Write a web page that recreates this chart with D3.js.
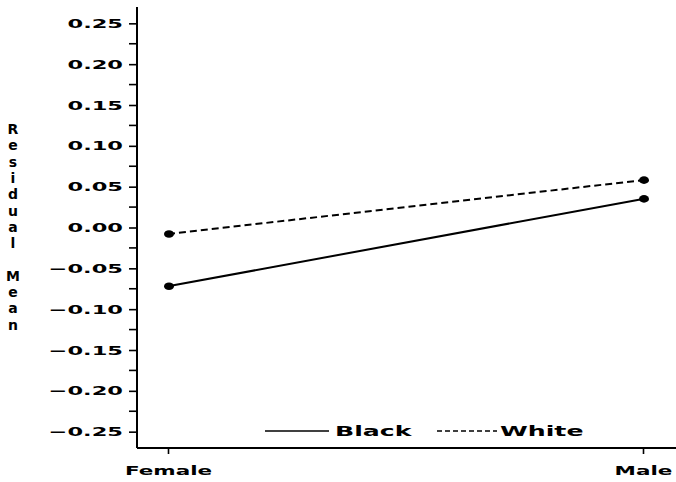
<!DOCTYPE html>
<html>
<head>
<meta charset="utf-8">
<script src="https://cdn.jsdelivr.net/npm/d3@7"></script>
<style>
  body { margin: 0; background: #fff; }
  text { font-family: "DejaVu Sans", sans-serif; font-weight: bold; fill: #000; }
</style>
</head>
<body>
<div id="chart"></div>
<script>
// Data
var sexes = ["Female", "Male"];
var blackMeans = [-0.072, 0.035];
var whiteMeans = [-0.008, 0.058];
var yTicks = [-0.25, -0.20, -0.15, -0.10, -0.05, 0.00, 0.05, 0.10, 0.15, 0.20, 0.25];
var yMinor = [-0.225, -0.175, -0.125, -0.075, -0.025, 0.025, 0.075, 0.125, 0.175, 0.225];
var seriesNames = ["Black", "White"];

var svgWidth = 676;
var svgHeight = 482;

var svg = d3.select("#chart")
  .append("svg")
  .attr("width", svgWidth)
  .attr("height", svgHeight);

// scales
var yScale = d3.scaleLinear()
  .domain([-0.27, 0.27])
  .range([448, 7]);

var xScale = d3.scalePoint()
  .domain(sexes)
  .range([168, 643]);

var axisX = 137;
var axisY = 448;

// stretch text horizontally like the old plotter font
function widen(sel, k) {
  sel.each(function() {
    var w = this.getComputedTextLength();
    d3.select(this).attr("textLength", w * k).attr("lengthAdjust", "spacingAndGlyphs");
  });
}

// y axis
var fmt = function(d) {
  var s = Math.abs(d).toFixed(2);
  return (d < -1e-9 ? "\u2212" : "") + s;
};
var yAxis = svg.append("g")
  .attr("transform", `translate(${axisX}, 0)`)
  .call(d3.axisLeft(yScale).tickValues(yTicks).tickFormat(fmt).tickSize(8).tickSizeOuter(0).tickPadding(6));
yAxis.select(".domain").remove();
yAxis.selectAll("line").attr("stroke", "#000").attr("stroke-width", 1.6);
yAxis.selectAll("text")
  .style("font-size", "12.5px")
  .style("font-family", "'DejaVu Sans', sans-serif")
  .style("font-weight", "bold");
widen(yAxis.selectAll("text"), 1.8);

svg.append("g")
  .selectAll("line")
  .data(yMinor)
  .enter()
  .append("line")
  .attr("x1", axisX - 8)
  .attr("x2", axisX)
  .attr("y1", d => yScale(d))
  .attr("y2", d => yScale(d))
  .attr("stroke", "#000")
  .attr("stroke-width", 1.6);

svg.append("line")
  .attr("x1", axisX).attr("x2", axisX)
  .attr("y1", yScale(0.27)).attr("y2", axisY)
  .attr("stroke", "#000").attr("stroke-width", 2);

// x axis
var xAxis = svg.append("g")
  .attr("transform", `translate(0, ${axisY})`)
  .call(d3.axisBottom(xScale).tickSize(6).tickSizeOuter(0).tickPadding(12));
xAxis.select(".domain").remove();
xAxis.selectAll("line").attr("stroke", "#000").attr("stroke-width", 1.6);
xAxis.selectAll("text")
  .style("font-size", "12.5px")
  .style("font-family", "'DejaVu Sans', sans-serif")
  .style("font-weight", "bold");
widen(xAxis.selectAll("text"), 1.72);

svg.append("line")
  .attr("x1", axisX).attr("x2", svgWidth)
  .attr("y1", axisY).attr("y2", axisY)
  .attr("stroke", "#000").attr("stroke-width", 2);

// y title, stacked letters
var title = "Residual Mean";
svg.append("g")
  .selectAll("text")
  .data(title.split(""))
  .enter()
  .append("text")
  .attr("x", 13)
  .attr("y", (d, i) => 134 + i * 16.3)
  .attr("text-anchor", "middle")
  .style("font-size", "14px")
  .text(d => d);

// lines
var line = d3.line()
  .x((d, i) => xScale(sexes[i]))
  .y(d => yScale(d));

var series = [
  { name: "Black", values: blackMeans, dash: null },
  { name: "White", values: whiteMeans, dash: "7,4" }
];

series.forEach(function(s) {
  svg.append("path")
    .datum(s.values)
    .attr("d", line)
    .attr("fill", "none")
    .attr("stroke", "#000")
    .attr("stroke-width", 2)
    .attr("stroke-dasharray", s.dash);

  svg.append("g")
    .selectAll("ellipse")
    .data(s.values)
    .enter()
    .append("ellipse")
    .attr("cx", (d, i) => xScale(sexes[i]) + 1)
    .attr("cy", d => yScale(d))
    .attr("rx", 5)
    .attr("ry", 3.8)
    .attr("fill", "#000");
});

// legend
var legend = svg.append("g");
var legendItems = [
  { x1: 265, x2: 329, tx: 335, dash: null },
  { x1: 437, x2: 497, tx: 500, dash: "5,3" }
];
legendItems.forEach(function(item, i) {
  legend.append("line")
    .attr("x1", item.x1).attr("x2", item.x2)
    .attr("y1", 431).attr("y2", 431)
    .attr("stroke", "#000")
    .attr("stroke-width", 1.6)
    .attr("stroke-dasharray", item.dash);
  var t = legend.append("text")
    .attr("x", item.tx)
    .attr("y", 436)
    .style("font-size", "14px")
    .text(seriesNames[i]);
  widen(t, 1.8);
});
</script>
</body>
</html>
